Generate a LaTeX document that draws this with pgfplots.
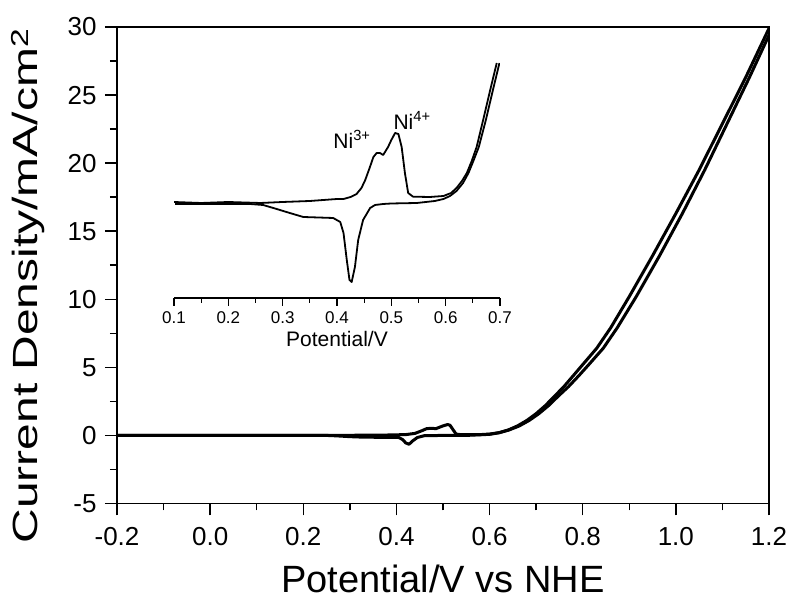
\documentclass[border=0pt]{standalone}
\usepackage{fontspec}
\setmainfont{Liberation Sans}
\usepackage{graphicx}
\usepackage{pgfplots}
\pgfplotsset{compat=1.18}

\pgfplotstableread{
x y
-0.20 0.00
0.00 0.00
0.20 0.00
0.30 0.01
0.38 0.03
0.42 0.06
0.44 0.15
0.455 0.35
0.465 0.50
0.475 0.52
0.485 0.50
0.50 0.70
0.51 0.80
0.515 0.75
0.52 0.50
0.528 0.10
0.54 0.05
0.58 0.06
0.60 0.10
0.62 0.20
0.64 0.40
0.66 0.70
0.68 1.10
0.70 1.60
0.72 2.20
0.74 2.90
0.76 3.60
0.78 4.40
0.80 5.20
0.83 6.40
0.86 7.90
0.90 10.20
0.95 13.20
1.00 16.30
1.05 19.50
1.10 22.90
1.15 26.30
1.20 29.90
}\mainfwd

\pgfplotstableread{
x y
1.20 29.40
1.158 26.30
1.11 22.90
1.062 19.50
1.014 16.30
0.965 13.20
0.915 10.20
0.874 7.90
0.844 6.40
0.813 5.20
0.792 4.40
0.770 3.60
0.748 2.90
0.727 2.20
0.706 1.60
0.685 1.10
0.664 0.70
0.642 0.40
0.621 0.20
0.60 0.08
0.55 0.00
0.50 0.00
0.46 -0.02
0.445 -0.15
0.435 -0.40
0.427 -0.65
0.42 -0.55
0.413 -0.30
0.405 -0.15
0.38 -0.14
0.33 -0.13
0.30 -0.09
0.27 -0.03
0.25 0.00
-0.20 0.00
}\mainrev

\pgfplotstableread{
x y
0.100 0.01
0.150 0.00
0.200 0.01
0.259 0.00
0.300 0.01
0.350 0.02
0.400 0.04
0.412 0.04
0.425 0.06
0.436 0.09
0.445 0.15
0.452 0.23
0.460 0.35
0.467 0.46
0.473 0.50
0.479 0.50
0.485 0.48
0.494 0.56
0.500 0.63
0.507 0.70
0.513 0.69
0.519 0.56
0.525 0.30
0.531 0.10
0.540 0.063
0.571 0.06
0.596 0.07
0.610 0.10
0.620 0.15
0.630 0.22
0.639 0.30
0.648 0.42
0.657 0.56
0.669 0.83
0.682 1.13
0.694 1.40
}\insfwd

\pgfplotstableread{
x y
0.699 1.40
0.687 1.13
0.674 0.83
0.661 0.56
0.651 0.42
0.642 0.30
0.632 0.20
0.620 0.12
0.608 0.07
0.596 0.04
0.580 0.02
0.547 0.00
0.500 -0.005
0.485 -0.01
0.470 -0.02
0.461 -0.05
0.448 -0.17
0.439 -0.37
0.433 -0.64
0.427 -0.79
0.423 -0.77
0.418 -0.57
0.412 -0.30
0.406 -0.19
0.393 -0.15
0.338 -0.14
0.313 -0.10
0.289 -0.06
0.264 -0.02
0.240 -0.01
0.102 -0.01
}\insrev

\begin{document}
\begin{tikzpicture}
\useasboundingbox (0pt,0pt) rectangle (796pt,601pt);
\begin{axis}[
  at={(117pt,97.5pt)}, anchor=south west,
  scale only axis, width=652pt, height=476.5pt,
  xmin=-0.2, xmax=1.2, ymin=-5, ymax=30,
  xtick={-0.2,0,0.2,0.4,0.6,0.8,1.0,1.2},
  ytick={-5,0,5,10,15,20,25,30},
  minor x tick num=1, minor y tick num=1,
  tick pos=left, tick align=outside,
  major tick length=12pt, minor tick length=7pt,
  tick style={black, line width=1.5pt},
  axis line style={line width=1.8pt},
  /pgf/number format/assume math mode=true,
  tick label style={font=\fontsize{26}{30}\selectfont},
  x tick label style={yshift=-8pt, /pgf/number format/.cd, fixed, fixed zerofill, precision=1, /tikz/.cd},
  y tick label style={xshift=-5pt, /pgf/number format/.cd, fixed, precision=0, /tikz/.cd},
  xlabel={Potential/V vs NHE},
  xlabel style={font=\fontsize{38}{44}\selectfont, at={(axis description cs:0.5,0)}, anchor=base, yshift=-89pt},
  ylabel={\scalebox{1.37}[1]{Current Density/mA/cm\textsuperscript{2}}},
  ylabel style={font=\fontsize{35}{40}\selectfont, at={(axis description cs:-0.1212,0.4565)}, anchor=base},
]
\addplot[black, line width=3pt, line join=round] table[x=x,y=y] {\mainfwd};
\addplot[black, line width=3pt, line join=round] table[x=x,y=y] {\mainrev};
\end{axis}
\begin{axis}[
  at={(174pt,303pt)}, anchor=south west,
  scale only axis, width=326pt, height=238pt,
  xmin=0.1, xmax=0.7, ymin=-0.95, ymax=1.43,
  axis x line*=bottom, hide y axis,
  xtick={0.1,0.2,0.3,0.4,0.5,0.6,0.7},
  minor x tick num=1,
  tick align=outside,
  major tick length=8pt, minor tick length=5pt,
  tick style={black, line width=1.1pt},
  axis line style={line width=1.2pt},
  /pgf/number format/assume math mode=true,
  tick label style={font=\fontsize{17}{20}\selectfont},
  x tick label style={yshift=-2pt, /pgf/number format/.cd, fixed, fixed zerofill, precision=1, /tikz/.cd},
  xlabel={Potential/V},
  xlabel style={font=\fontsize{21}{25}\selectfont, at={(axis description cs:0.5,0)}, anchor=base, yshift=-49pt},
]
\addplot[black, line width=1.8pt, line join=round] table[x=x,y=y] {\insfwd};
\addplot[black, line width=1.8pt, line join=round] table[x=x,y=y] {\insrev};
\node[anchor=base west, font=\fontsize{21}{25}\selectfont] at (axis cs:0.387,0.547) {Ni\textsuperscript{3+}};
\node[anchor=base west, font=\fontsize{21}{25}\selectfont] at (axis cs:0.4976,0.737) {Ni\textsuperscript{4+}};
\end{axis}
\end{tikzpicture}
\end{document}
